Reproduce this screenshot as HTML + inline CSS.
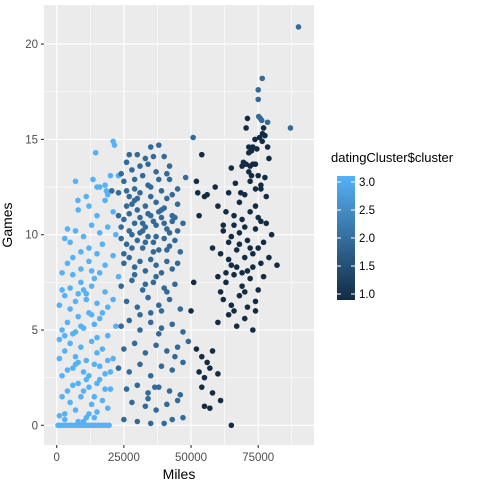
<!DOCTYPE html>
<html><head><meta charset="utf-8"><style>
body{margin:0;background:#fff;}
svg text{font-family:"Liberation Sans",sans-serif;}
</style></head><body>
<svg id="chart" width="483" height="487">
<defs><linearGradient id="cg" x1="0" y1="1" x2="0" y2="0"><stop offset="0" stop-color="#132B43"/><stop offset="1" stop-color="#56B1F7"/></linearGradient></defs>
<rect x="44" y="5" width="270" height="440" fill="#EBEBEB"/>
<g id="grid"></g><g id="pts"></g><g id="axes"></g>
<text x="12" y="225" transform="rotate(-90 12 225)" text-anchor="middle" font-size="14" fill="#000">Games</text>
<text x="179" y="479" text-anchor="middle" font-size="14" fill="#000">Miles</text>
<g>
<text x="331" y="162" font-size="13" fill="#000">datingCluster$cluster</text>
<rect x="337" y="176" width="18" height="124" fill="url(#cg)"/>
<g id="leg"></g>
</g>
</svg>
<script>
const milesK=[0.5,1.5,2.5,3.5,4.5,5.5,6.5,7.5,8.5,9.5,10.5,11.5,12.5,13.5,14.5,15.5,16.5,17.5,18.5,19.5,1,3,5,7,9,11,13,15,17,19,4,8,12,16,20,2,6,10,14,18,1,3,5,7,9,11,13,15,17,21,2,4,6,8,10,12,14,16,19,22,1,3,5,7,9,11,13,15,18,21,2,4,6,9,12,15,18,21,23,3,5,7,10,13,16,19,22,8,12,15,18,21,7,11,15,18,20,7.9,14.5,21,21.5,23,13.5,16,18.5,19,20.5,
24,25,26,27,28,29,30,31,32,33,34,35,36,37,38,40,41,42,27,29,31,33,35,37,39,41,43,45,23,25,27,29,31,33,35,37,39,41,43,45,47,24,26,28,30,32,34,36,38,40,42,44,46,25,27,29,31,33,35,37,39,41,43,45,24,28,32,36,40,44,26,30,34,38,42,46,24,27,31,35,39,43,47,25,29,33,37,41,45,49,23,27,31,35,39,43,47,26,30,34,38,42,46,28,33,37,41,45,25,30,35,40,43,47,50.8,36.5,
90,76.5,75,75,75.2,75.8,76.3,78.5,87,71,70.5,77,76.6,73.8,77.5,75.5,73,71.5,74.5,78.5,72.5,71.5,76.5,54,69,69.5,70.5,72,73,74,71.5,72.5,75,77.5,66.5,76,76,74,64,68.5,70,52.5,55,60,63,66,69,72,75,78,62,65,68,71,74,77,80,58,61,64,67,70,73,76,79,82,60,63,66,69,72,75,62,65,68,71,74,60,64,67,70,73,52,54,56,58,53,55,57,60,54,58,61,55,57,65,53,56,52,59,51,50];
const games=[0,0,0,0,0,0,0,0,0,0,0,0,0,0,0,0,0,0,0,0,0.5,0.6,1.2,0.8,1.5,0.4,1.1,0.7,1.3,0.9,1.8,2.2,2,2.4,1.9,2.6,3,2.8,3.2,2.7,3.5,3.9,4.3,3.6,4.1,3.4,4.4,3.8,4,3.5,5,5.4,4.8,5.7,5.1,5.9,5.3,5.6,4.7,5.2,6.3,6.8,7.2,6.5,7.5,6.9,7.3,6.4,7,6.6,8,8.5,8.8,8.2,8.6,9,8.4,8.9,7.8,9.8,9.6,10.2,9.9,10.5,10.1,10.4,10,11.3,11.5,11,11.8,11.2,12.8,12,12.5,12.6,13.1,11.8,14.3,14.9,14.7,13.1,12.9,12.5,12.3,12.1,12.3,
13.2,12.8,13.8,14.2,13.4,12.9,14.2,13.6,13.1,14,13.7,14.6,14.1,13.3,14.7,14.1,13.2,13.6,12,11.8,12.2,11.5,12,11.7,12.3,11.9,12.1,11.6,11,10.8,11.1,10.6,10.9,10.4,11,10.5,10.9,10.3,10.7,10.2,10.6,9.8,9.5,10,9.7,9.3,9.9,9.6,9.2,9.8,9.4,9.7,9.1,8.5,8.8,8.3,8.6,8.1,8.7,8.4,8,8.6,8.2,8.5,7.3,7.6,7.1,7.5,7.2,7.4,6.5,6.2,6.7,6.3,6.6,6.1,5.2,5.5,5,5.4,5.1,5.3,4.9,4,4.3,3.8,4.2,3.9,4.1,4.4,3,2.8,3.2,2.6,3.1,2.9,3.3,1.9,2.1,1.7,2,1.8,1.6,1.2,1,0.8,1.1,1.3,0.3,0.2,0.1,0.1,0.3,0.4,15.1,2,
20.9,18.2,17.6,17.1,16.2,16.1,16,15.9,15.6,16.1,15.6,15.6,15.3,15,15.2,15.1,14.6,14.6,14.5,14.6,14.4,14.3,14.9,14.2,13.6,13.8,13.7,13.6,13.7,13.7,13.3,13.1,13.1,13,12.7,12.6,12.4,12.4,12.2,12.2,12.1,12.2,12,11.5,11.2,11,10.8,11.2,10.9,10.6,10.2,9.9,10.1,9.7,10.3,9.6,10,9.3,9,8.7,9.2,8.8,9,8.5,8.8,8.4,7.8,7.5,7.9,7.3,7.7,7.1,6.6,6.3,6.8,6.2,6.5,5.4,5.8,5.2,5.6,5,4,3.6,3.3,3.9,2.8,2.5,3,2.7,2,1.7,1.3,1,0.9,0,11,12.1,12.8,12.5,7.5,6];
const extraMiles=[2,4,6,8,10,12,14,16,18,20,3,5,7,9,11,13,15,17,19,1,6,8,10,12,14,16,4,9,13,17,2,7,11,15,19,3,10,14,8,12,
24,26,28,30,32,34,36,38,40,42,44,25,27,29,31,33,35,37,39,41,43,23,26,28,30,32,34,36,38,40,42,45,29,33,37,41,31,35,39,34,38,44,48,
62,64,66,68,70,72,74,76,63,65,67,69,71,73,75,77,61,66,70,74,78,68,72,65,79];
const extraGames=[1.5,2.9,2.1,3.3,1.8,2.6,1.5,3.1,1.9,2.8,4.7,6.1,4.9,5.2,6.6,5.8,4.6,5.9,6.2,4.5,7.9,6.9,7.1,9.3,7.7,8.0,10.3,9.1,8.1,9.5,7.1,3.2,2.4,2.2,3.4,0.3,0.2,0.4,0.2,0.6,
10.4,11.5,9.3,11.3,10.2,12.6,9.1,11.2,10.6,12.9,10.9,9.0,10.2,12.4,10.1,9.6,12.5,9.9,11.3,9.2,11.0,12.2,12.3,11.6,11.9,10.6,11.1,10.7,12.9,11.4,10.1,12.4,7.9,7.4,7.8,7.0,5.8,5.9,6.0,1.4,4.8,3.6,13.0,
10.5,9.6,10.5,9.5,10.4,9.3,11.5,10.7,8.0,8.4,8.3,8.0,8.1,8.3,9.3,7.8,7.0,6.0,7.0,6.0,12.0,11.7,12.8,13.5,14.0];
const extraClusters=[];
for(let i=0;i<extraMiles.length;i++){extraClusters.push(i<40?3:(i<83?2:1));}
const clusters=[];
for(let i=0;i<milesK.length;i++){clusters.push(i<106?3:(i<232?2:1));}
for(let i=0;i<extraMiles.length;i++){milesK.push(extraMiles[i]);games.push(extraGames[i]);clusters.push(extraClusters[i]);}
const xTicks=[0,25000,50000,75000];
const yTicks=[0,5,10,15,20];
const legTicks=[1.0,1.5,2.0,2.5,3.0];
const NS="http://www.w3.org/2000/svg";
const sx=m=>56.7+m*0.0026867, sy=g=>425.3-g*19.06;
const ly=v=>294-(v-1)*56;
function mk(t,a,p){const e=document.createElementNS(NS,t);for(const k in a)e.setAttribute(k,a[k]);p.appendChild(e);return e;}
const grid=document.getElementById('grid'),axes=document.getElementById('axes'),pts=document.getElementById('pts'),leg=document.getElementById('leg');
for(let v=12500;v<96000;v+=25000){const l=mk('line',{x1:sx(v),x2:sx(v),y1:5,y2:445,stroke:'#fff','stroke-width':0.55},grid);

}
for(let v=2.5;v<22;v+=5){const l=mk('line',{x1:44,x2:314,y1:sy(v),y2:sy(v),stroke:'#fff','stroke-width':0.55},grid);

}
xTicks.forEach(v=>{const l=mk('line',{x1:sx(v),x2:sx(v),y1:5,y2:445,stroke:'#fff','stroke-width':1.1},grid);


mk('line',{x1:sx(v),x2:sx(v),y1:445,y2:448,stroke:'#333','stroke-width':1.1},axes);
const t=mk('text',{x:sx(v),y:461,'text-anchor':'middle','font-size':11.5,fill:'#4D4D4D'},axes);t.textContent=v;

});
yTicks.forEach(v=>{const l=mk('line',{x1:44,x2:314,y1:sy(v),y2:sy(v),stroke:'#fff','stroke-width':1.1},grid);


mk('line',{x1:41,x2:44,y1:sy(v),y2:sy(v),stroke:'#333','stroke-width':1.1},axes);
const t=mk('text',{x:38,y:sy(v)+4,'text-anchor':'end','font-size':11.5,fill:'#4D4D4D'},axes);t.textContent=v;

});
const col={1:'#132B43',2:'#336A98',3:'#56B1F7'};
for(let i=0;i<milesK.length;i++){const c=mk('circle',{cx:sx(milesK[i]*1000),cy:sy(games[i]),r:2.8,fill:col[clusters[i]]},pts);

}
legTicks.forEach(v=>{mk('line',{x1:337,x2:341,y1:ly(v),y2:ly(v),stroke:'#fff'},leg);mk('line',{x1:351,x2:355,y1:ly(v),y2:ly(v),stroke:'#fff'},leg);
const t=mk('text',{x:359,y:ly(v)+4,'font-size':11.5,fill:'#000'},leg);t.textContent=v.toFixed(1);

});
</script>
</body></html>
